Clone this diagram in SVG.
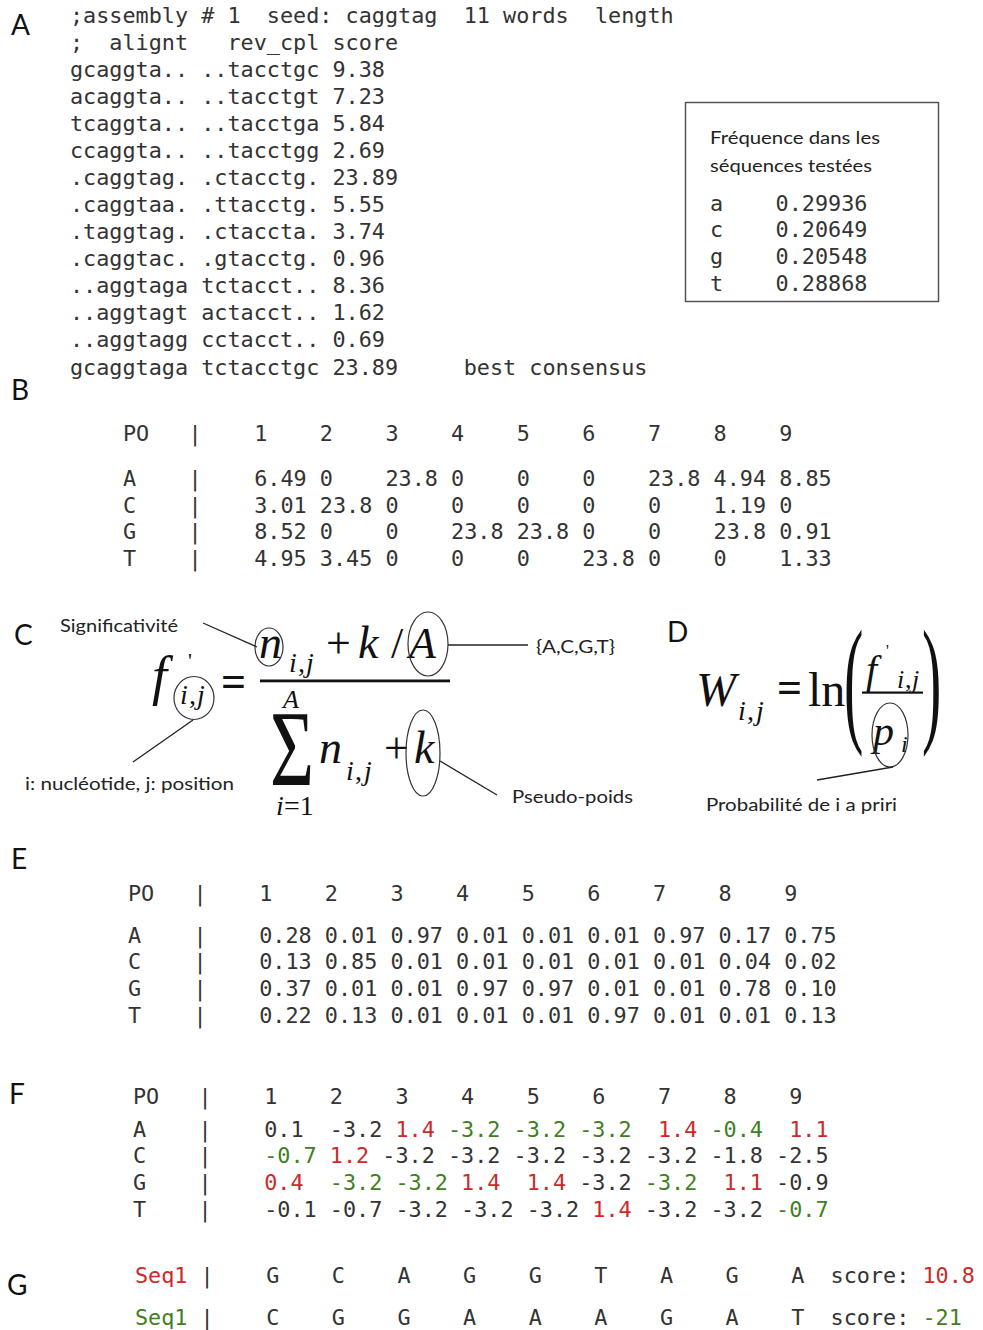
<svg xmlns="http://www.w3.org/2000/svg" width="983" height="1330" viewBox="0 0 983 1330">
<style>
.m{font-family:"DejaVu Sans Mono","Liberation Mono",monospace;font-size:21.8px;fill:#333;white-space:pre}
.lab{font-family:Lato,"Open Sans","Liberation Sans",sans-serif;font-size:28px;fill:#111}
.s{font-family:Lato,"Open Sans","Liberation Sans",sans-serif;font-size:18px;fill:#222}
.mi{font-family:"Liberation Serif","Times New Roman",serif;font-style:italic;fill:#111}
.mr{font-family:"Liberation Serif","Times New Roman",serif;fill:#111}
.r{fill:#cc2a2a}
.g{fill:#3f7f1f}
.ln{stroke:#222;stroke-width:1.3;fill:none}
.el{stroke:#333;stroke-width:1.2;fill:none}
</style>
<rect width="983" height="1330" fill="#fff"/>

<g id="labels">
<text class="lab" x="11" y="35">A</text>
<text class="lab" x="11" y="400">B</text>
<text class="lab" x="14" y="645">C</text>
<text class="lab" x="667" y="642">D</text>
<text class="lab" x="11" y="869">E</text>
<text class="lab" x="9" y="1104">F</text>
<text class="lab" x="7" y="1295">G</text>
</g>

<g id="sectionA" xml:space="preserve">
<text class="m" x="70" y="23">;assembly # 1  seed: caggtag  11 words  length</text>
<text class="m" x="70" y="50">;  alignt   rev_cpl score</text>
<text class="m" x="70" y="77">gcaggta.. ..tacctgc 9.38</text>
<text class="m" x="70" y="104">acaggta.. ..tacctgt 7.23</text>
<text class="m" x="70" y="131">tcaggta.. ..tacctga 5.84</text>
<text class="m" x="70" y="158">ccaggta.. ..tacctgg 2.69</text>
<text class="m" x="70" y="185">.caggtag. .ctacctg. 23.89</text>
<text class="m" x="70" y="212">.caggtaa. .ttacctg. 5.55</text>
<text class="m" x="70" y="239">.taggtag. .ctaccta. 3.74</text>
<text class="m" x="70" y="266">.caggtac. .gtacctg. 0.96</text>
<text class="m" x="70" y="293">..aggtaga tctacct.. 8.36</text>
<text class="m" x="70" y="320">..aggtagt actacct.. 1.62</text>
<text class="m" x="70" y="347">..aggtagg cctacct.. 0.69</text>
<text class="m" x="70" y="375">gcaggtaga tctacctgc 23.89     best consensus</text>
</g>

<g id="frequencyBox" xml:space="preserve">
<rect x="685.5" y="102.5" width="253" height="199" fill="none" stroke="#555" stroke-width="1.5"/>
<text class="s" x="710" y="144" font-size="19" textLength="170" lengthAdjust="spacingAndGlyphs">Fréquence dans les</text>
<text class="s" x="710" y="172" font-size="19" textLength="162" lengthAdjust="spacingAndGlyphs">séquences testées</text>
<text class="m" x="710" y="211">a    0.29936</text>
<text class="m" x="710" y="237">c    0.20649</text>
<text class="m" x="710" y="264">g    0.20548</text>
<text class="m" x="710" y="291">t    0.28868</text>
</g>

<g id="tableB" xml:space="preserve">
<text class="m" x="123" y="441">PO   |    1    2    3    4    5    6    7    8    9</text>
<text class="m" x="123" y="486">A    |    6.49 0    23.8 0    0    0    23.8 4.94 8.85</text>
<text class="m" x="123" y="513">C    |    3.01 23.8 0    0    0    0    0    1.19 0</text>
<text class="m" x="123" y="539">G    |    8.52 0    0    23.8 23.8 0    0    23.8 0.91</text>
<text class="m" x="123" y="566">T    |    4.95 3.45 0    0    0    23.8 0    0    1.33</text>
</g>

<g id="formulaC">
<text class="mi" x="152" y="694" font-size="54">f</text>
<text class="mr" x="188" y="668" font-size="22">'</text>
<text class="mi" x="180" y="704" font-size="28">i</text>
<text class="mr" x="189" y="704" font-size="28">,</text>
<text class="mi" x="197" y="704" font-size="28">j</text>
<ellipse class="el" cx="194" cy="698" rx="20" ry="21.5"/>
<text class="mr" x="221" y="696" font-size="44" font-weight="bold">=</text>
<text class="mi" x="259" y="658" font-size="46">n</text>
<ellipse class="el" cx="269" cy="647" rx="14" ry="19"/>
<text class="mi" x="289" y="672" font-size="28">i</text>
<text class="mr" x="298" y="672" font-size="28">,</text>
<text class="mi" x="306" y="672" font-size="28">j</text>
<text class="mr" x="326" y="658" font-size="44">+</text>
<text class="mi" x="358" y="658" font-size="46">k</text>
<text class="mr" x="391" y="658" font-size="44">/</text>
<text class="mi" x="409" y="658" font-size="44">A</text>
<ellipse class="el" cx="428" cy="644" rx="20" ry="32"/>
<rect x="260" y="679.5" width="190" height="2.8" fill="#111"/>
<text class="mi" x="283" y="708" font-size="26">A</text>
<text class="mr" x="270" y="785" font-size="108" textLength="44" lengthAdjust="spacingAndGlyphs">Σ</text>
<text class="mi" x="319" y="763" font-size="46">n</text>
<text class="mi" x="346" y="780" font-size="28">i</text>
<text class="mr" x="355" y="780" font-size="28">,</text>
<text class="mi" x="364" y="780" font-size="28">j</text>
<text class="mr" x="384" y="763" font-size="44">+</text>
<text class="mi" x="414" y="763" font-size="46">k</text>
<ellipse class="el" cx="423" cy="753" rx="17" ry="43"/>
<text class="mi" x="276" y="815" font-size="28">i</text>
<text class="mr" x="284" y="815" font-size="28">=1</text>
<text class="s" x="60" y="632" textLength="118" lengthAdjust="spacingAndGlyphs">Significativité</text>
<text class="s" x="536" y="653" font-size="16" textLength="79" lengthAdjust="spacingAndGlyphs">{A,C,G,T}</text>
<text class="s" x="25" y="790" textLength="209" lengthAdjust="spacingAndGlyphs">i: nucléotide, j: position</text>
<text class="s" x="512" y="803" textLength="121" lengthAdjust="spacingAndGlyphs">Pseudo-poids</text>
</g>

<g id="formulaD">
<text class="mi" x="696" y="706" font-size="48">W</text>
<text class="mi" x="738" y="720" font-size="28">i</text>
<text class="mr" x="747" y="720" font-size="28">,</text>
<text class="mi" x="756" y="720" font-size="28">j</text>
<text class="mr" x="777" y="702" font-size="44" font-weight="bold">=</text>
<text class="mr" x="808" y="706" font-size="48">ln</text>
<text class="mr" font-size="58" transform="translate(844,727) scale(1,2.4)">(</text>
<text class="mr" font-size="58" transform="translate(922,727) scale(1,2.4)">)</text>
<text class="mi" x="866" y="683" font-size="40">f</text>
<text class="mr" x="886" y="656" font-size="16">'</text>
<text class="mi" x="897" y="688" font-size="26">i</text>
<text class="mr" x="905" y="688" font-size="26">,</text>
<text class="mi" x="912" y="688" font-size="26">j</text>
<rect x="862" y="691.5" width="61" height="2.2" fill="#111"/>
<text class="mi" x="873" y="745" font-size="42">p</text>
<text class="mi" x="901" y="752" font-size="24">i</text>
<ellipse class="el" cx="890" cy="735" rx="18" ry="32"/>
<text class="s" x="706" y="811" textLength="191" lengthAdjust="spacingAndGlyphs">Probabilité de i a priri</text>
</g>

<g id="connectors">
<line class="ln" x1="203" y1="623" x2="257" y2="647"/>
<line class="ln" x1="448" y1="645" x2="528" y2="645"/>
<line class="ln" x1="193" y1="720" x2="133" y2="762"/>
<line class="ln" x1="440" y1="761" x2="497" y2="795"/>
<line class="ln" x1="893" y1="767" x2="817" y2="780"/>
</g>

<g id="tableE" xml:space="preserve">
<text class="m" x="128" y="901">PO   |    1    2    3    4    5    6    7    8    9</text>
<text class="m" x="128" y="943">A    |    0.28 0.01 0.97 0.01 0.01 0.01 0.97 0.17 0.75</text>
<text class="m" x="128" y="969">C    |    0.13 0.85 0.01 0.01 0.01 0.01 0.01 0.04 0.02</text>
<text class="m" x="128" y="996">G    |    0.37 0.01 0.01 0.97 0.97 0.01 0.01 0.78 0.10</text>
<text class="m" x="128" y="1023">T    |    0.22 0.13 0.01 0.01 0.01 0.97 0.01 0.01 0.13</text>
</g>

<g id="tableF" xml:space="preserve">
<text class="m" x="133" y="1104">PO   |    1    2    3    4    5    6    7    8    9</text>
<text class="m" x="133" y="1137">A    |    0.1  -3.2 <tspan class="r">1.4</tspan> <tspan class="g">-3.2 -3.2 -3.2</tspan>  <tspan class="r">1.4</tspan> <tspan class="g">-0.4</tspan>  <tspan class="r">1.1</tspan></text>
<text class="m" x="133" y="1163">C    |    <tspan class="g">-0.7</tspan> <tspan class="r">1.2</tspan> -3.2 -3.2 -3.2 -3.2 -3.2 -1.8 -2.5</text>
<text class="m" x="133" y="1190">G    |    <tspan class="r">0.4</tspan>  <tspan class="g">-3.2 -3.2</tspan> <tspan class="r">1.4</tspan>  <tspan class="r">1.4</tspan> -3.2 <tspan class="g">-3.2</tspan>  <tspan class="r">1.1</tspan> -0.9</text>
<text class="m" x="133" y="1217">T    |    -0.1 -0.7 -3.2 -3.2 -3.2 <tspan class="r">1.4</tspan> -3.2 -3.2 <tspan class="g">-0.7</tspan></text>
</g>

<g id="sectionG" xml:space="preserve">
<text class="m" x="135" y="1283"><tspan class="r">Seq1</tspan> |    G    C    A    G    G    T    A    G    A  score: <tspan class="r">10.8</tspan></text>
<text class="m" x="135" y="1325"><tspan class="g">Seq1</tspan> |    C    G    G    A    A    A    G    A    T  score: <tspan class="g">-21</tspan></text>
</g>
</svg>
